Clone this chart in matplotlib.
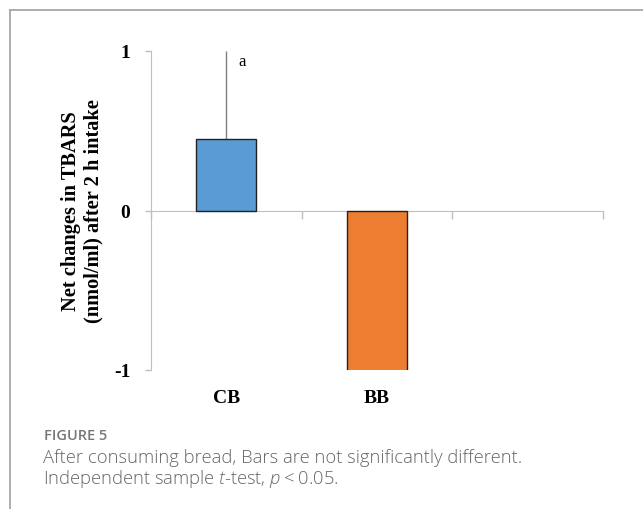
import matplotlib
matplotlib.use("Agg")
import matplotlib.pyplot as plt
from matplotlib.lines import Line2D
import matplotlib.transforms as mtransforms

plt.rcParams["mathtext.fontset"] = "custom"
plt.rcParams["mathtext.it"] = "Open Sans:italic:light"
plt.rcParams["mathtext.rm"] = "Open Sans:light"

categories = ["CB", "BB", ""]
values = [0.45, -1.1, None]
err_upper = [0.55, 0.0, None]
colors = ["#5B9BD5", "#ED7D31"]
sig_letters = ["a", ""]
yticks = [-1, 0, 1]
ylabel = "Net changes in TBARS\n(nmol/ml) after 2 h intake"
caption_title = "FIGURE 5"
caption_lines = ["After consuming bread, Bars are not significantly different.",
                 "Independent sample $t$-test, $p$\u2009<\u20090.05."]

fig = plt.figure(figsize=(6.43, 5.10), dpi=100)
W, H = 643, 510

# frame lines
fig.add_artist(Line2D([10 / W, 1], [1 - 11 / H, 1 - 11 / H], color="#a0a0a0", lw=1.2))
fig.add_artist(Line2D([10 / W, 10 / W], [0, 1 - 11 / H], color="#a0a0a0", lw=1.2))

ax = fig.add_axes([151 / W, 1 - 371 / H, (603 - 151) / W, (371 - 52) / H])
ax.set_xlim(0, len(categories))
ax.set_ylim(-1, 1)

serif = "Liberation Serif"
grey = "#bfbfbf"

for i, (v, c) in enumerate(zip(values, colors)):
    x = i + 0.5
    ax.bar(x, v, width=0.4, color=c, edgecolor="#222222", linewidth=1.0, zorder=3)
    if err_upper[i]:
        ax.errorbar(x, v, yerr=[[0], [err_upper[i]]], fmt="none", ecolor="#808080",
                    elinewidth=1.0, capsize=0, zorder=2)
    if sig_letters[i]:
        ax.text(x + 0.08, v + err_upper[i] - 0.01, sig_letters[i], fontfamily=serif,
                fontsize=12, ha="left", va="top")

for s in ["top", "right"]:
    ax.spines[s].set_visible(False)
ax.spines["left"].set_color(grey)
ax.spines["bottom"].set_position(("data", 0))
ax.spines["bottom"].set_color(grey)
ax.spines["bottom"].set_zorder(1)

ax.set_xticks(range(0, len(categories) + 1))
ax.set_xticklabels([])
ax.tick_params(axis="x", direction="out", length=6, color=grey, width=1)
ax.set_yticks(yticks)
ax.set_yticklabels([str(t) for t in yticks], fontfamily=serif, fontweight="bold", fontsize=14)
ax.tick_params(axis="y", direction="out", length=4, color=grey, width=1, pad=11)

trans = mtransforms.blended_transform_factory(ax.transData, ax.transAxes)
for i, cat in enumerate(categories):
    ax.text(i + 0.5, -0.058, cat, transform=trans, ha="center", va="top",
            fontfamily=serif, fontweight="bold", fontsize=14)

fig.text(82 / W, 1 - 211 / H, ylabel, rotation=90, ha="center", va="center",
         fontfamily=serif, fontweight="bold", fontsize=14.7, linespacing=1.15)

fig.text(44 / W, 1 - 436 / H, caption_title, fontfamily="Open Sans", fontsize=10.5,
         fontweight="semibold", color="#777777", va="center", ha="left")
fig.text(43 / W, 1 - 458 / H, caption_lines[0], fontfamily="Open Sans", fontsize=13.2,
         fontweight="light", color="#666666", va="center", ha="left")
fig.text(43 / W, 1 - 479 / H, caption_lines[1], fontfamily="Open Sans", fontsize=13.2,
         fontweight="light", color="#666666", va="center", ha="left")

fig.savefig("out.png", dpi=100)
